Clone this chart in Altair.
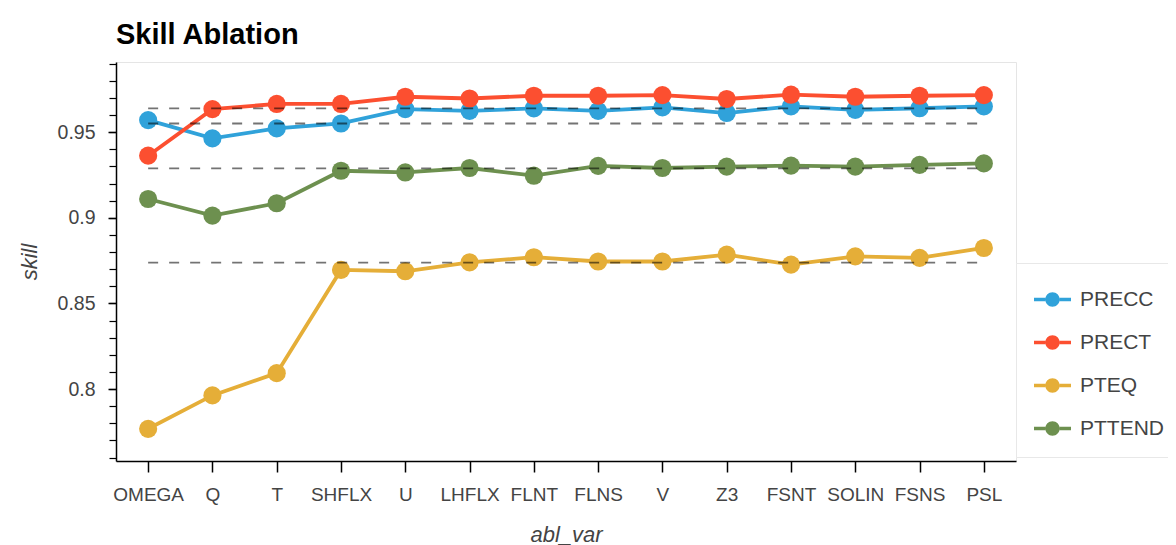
import altair as alt
import pandas as pd

categories = ["OMEGA", "Q", "T", "SHFLX", "U", "LHFLX", "FLNT", "FLNS",
              "V", "Z3", "FSNT", "SOLIN", "FSNS", "PSL"]
series_names = ["PRECC", "PRECT", "PTEQ", "PTTEND"]
series_colors = ["#30a2da", "#fc4f30", "#e5ae38", "#6d904f"]

precc = [0.9571, 0.9464, 0.9522, 0.9551, 0.9635, 0.9625, 0.9639, 0.9625,
         0.9645, 0.9612, 0.9651, 0.9630, 0.9640, 0.9651]
prect = [0.9363, 0.9635, 0.9665, 0.9665, 0.9707, 0.9697, 0.9713, 0.9713,
         0.9717, 0.9694, 0.9719, 0.9707, 0.9713, 0.9717]
pteq = [0.7768, 0.7963, 0.8093, 0.8696, 0.8688, 0.8740, 0.8770, 0.8745,
        0.8745, 0.8785, 0.8727, 0.8775, 0.8766, 0.8824]
pttend = [0.9110, 0.9013, 0.9085, 0.9275, 0.9265, 0.9291, 0.9246, 0.9303,
          0.9291, 0.9299, 0.9305, 0.9299, 0.9309, 0.9318]
baselines = [0.9639, 0.9551, 0.9289, 0.8739]

major_ticks = [0.8, 0.85, 0.9, 0.95]
minor_ticks = [round(0.76 + 0.01 * i, 2) for i in range(24)]

rows = []
for name, vals in zip(series_names, [precc, prect, pteq, pttend]):
    for c, v in zip(categories, vals):
        rows.append({"abl_var": c, "skill": v, "var": name})
df = pd.DataFrame(rows)
base_df = pd.DataFrame({"base": baselines,
                        "abl_var": [categories[0]] * len(baselines),
                        "x1": [categories[-1]] * len(baselines)})

yscale = alt.Scale(domain=[0.758, 0.991], nice=False, zero=False)
xscale = alt.Scale(domain=categories, type="point", padding=0.5)

xaxis = alt.Axis(title="abl_var", labelAngle=0, domainColor="black", domainWidth=1.5,
                 tickColor="black", tickWidth=1.5, tickSize=11, labelPadding=13,
                 labelFontSize=19, labelColor="#444", titleFontSize=22,
                 titleFontStyle="italic", titleFontWeight="normal", titleColor="#444",
                 titleBaseline="alphabetic", titleY=80, grid=False)
yaxis_major = alt.Axis(title="skill", orient="left", values=major_ticks, format="~g",
                       domainColor="black", domainWidth=1.5, tickColor="black",
                       tickWidth=1.5, tickSize=8, labelPadding=13, labelFontSize=19.5,
                       labelColor="#444", titleFontSize=22, titleFontStyle="italic",
                       titleFontWeight="normal", titleColor="#444",
                       titleBaseline="alphabetic", titleX=-80, grid=False)
yaxis_minor = alt.Axis(title=None, orient="left", values=minor_ticks, labels=False,
                       domain=False, tickColor="black", tickWidth=1.2, tickSize=7,
                       grid=False)

legend_path = ("M-0.39,0 A0.39,0.39 0 1,1 0.39,0 A0.39,0.39 0 1,1 -0.39,0 Z "
               "M-1,-0.1 L-0.39,-0.1 L-0.39,0.1 L-1,0.1 Z "
               "M0.39,-0.1 L1,-0.1 L1,0.1 L0.39,0.1 Z")

color_scale = alt.Scale(domain=series_names, range=series_colors)
legend = alt.Legend(title=None, orient="none", legendX=900, legendY=201, padding=18,
                    strokeColor="#e8e8e8", fillColor="white",
                    symbolType=legend_path, symbolSize=1369, symbolStrokeWidth=0,
                    labelFontSize=21, labelColor="#444", labelOffset=9, rowPadding=14)

base = alt.Chart(df)
lines = base.mark_line(strokeWidth=3.8).encode(
    x=alt.X("abl_var:N", scale=xscale, axis=xaxis),
    y=alt.Y("skill:Q", scale=yscale, axis=yaxis_major),
    color=alt.Color("var:N", scale=color_scale, legend=legend),
)
pts = base.mark_point(filled=True, size=330, opacity=1).encode(
    x=alt.X("abl_var:N", scale=xscale, axis=xaxis),
    y=alt.Y("skill:Q", scale=yscale, axis=None),
    color=alt.Color("var:N", scale=color_scale, legend=legend),
)
rules = alt.Chart(base_df).mark_rule(color="black", opacity=0.55, strokeWidth=1.8,
                                     strokeDash=[10, 11]).encode(
    x=alt.X("abl_var:N", scale=xscale, axis=xaxis),
    x2="x1:N",
    y=alt.Y("base:Q", scale=yscale, axis=yaxis_minor),
)

chart = alt.layer(lines, pts, rules).resolve_axis(y="independent").properties(
    width=900, height=399,
    title=alt.TitleParams("Skill Ablation", anchor="start", frame="group",
                          fontSize=29, fontWeight="bold", color="black", offset=12),
    autosize=alt.AutoSizeParams(type="none"),
    padding={"left": 108, "top": 54, "right": 152, "bottom": 84},
).configure(font="Liberation Sans").configure_view(stroke="#e5e5e5", strokeWidth=1)

chart.save("out.html", embed_options={"renderer": "svg", "actions": False})
